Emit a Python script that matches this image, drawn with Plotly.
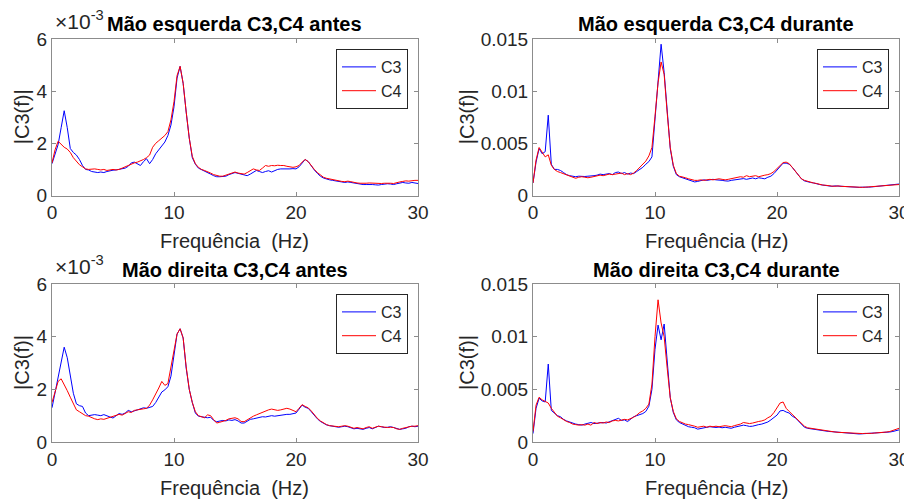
import numpy as np
import plotly.graph_objects as go

# Frequency bins (Hz), 0.25 Hz spacing
freq = np.arange(121) * 0.25

# Values in units of 1e-3
esq_antes_c3 = [1.22,1.6,1.95,2.6,3.25,2.6,1.8,1.65,1.55,1.38,1.15,1.0,0.98,0.92,0.9,0.88,0.9,0.88,0.92,0.95,
                0.97,0.98,1.0,1.02,1.05,1.12,1.25,1.28,1.2,1.15,1.3,1.41,1.22,1.38,1.6,1.75,1.9,2.05,2.3,2.7,
                3.4,4.5,4.95,4.3,3.2,2.2,1.45,1.2,1.05,1.0,0.95,0.88,0.82,0.76,0.72,0.72,0.73,0.74,0.8,0.85,
                0.88,0.85,0.82,0.78,0.76,0.82,0.9,0.96,0.92,0.88,0.92,0.95,0.9,0.96,1.0,1.02,1.02,1.0,1.02,1.03,
                1.02,1.1,1.25,1.38,1.3,1.12,0.98,0.85,0.74,0.67,0.63,0.6,0.58,0.55,0.53,0.52,0.5,0.52,0.5,0.48,
                0.45,0.43,0.42,0.42,0.43,0.42,0.41,0.4,0.42,0.44,0.45,0.44,0.42,0.45,0.48,0.5,0.48,0.47,0.5,0.48,
                0.46]
esq_antes_c4 = [1.25,1.75,2.08,1.95,1.85,1.78,1.65,1.45,1.3,1.18,1.1,1.02,1.0,1.02,1.02,1.0,0.98,1.0,0.96,0.98,
                1.0,0.98,1.0,1.05,1.1,1.15,1.22,1.25,1.28,1.32,1.38,1.45,1.55,1.85,2.0,2.1,2.2,2.3,2.45,2.9,
                3.6,4.6,4.95,4.3,3.2,2.2,1.5,1.22,1.08,1.0,0.96,0.92,0.86,0.8,0.76,0.74,0.74,0.78,0.82,0.88,
                0.9,0.86,0.84,0.82,0.88,0.95,1.02,0.98,0.96,1.05,1.15,1.12,1.15,1.14,1.16,1.15,1.15,1.12,1.1,1.08,
                1.1,1.15,1.28,1.38,1.3,1.14,1.0,0.88,0.78,0.7,0.66,0.63,0.6,0.58,0.55,0.54,0.53,0.55,0.53,0.5,
                0.48,0.47,0.46,0.47,0.48,0.47,0.46,0.45,0.46,0.47,0.48,0.47,0.46,0.5,0.52,0.54,0.56,0.55,0.57,0.58,
                0.58]
esq_dur_c3 = [1.2,3.2,4.5,4.0,4.2,7.7,3.0,2.5,2.5,2.4,2.2,2.0,1.9,1.85,1.8,1.85,1.8,1.82,1.85,1.85,
              1.9,1.95,2.05,2.0,2.05,2.1,2.0,2.2,2.25,2.1,2.2,2.05,2.15,2.1,2.3,2.5,2.7,3.0,3.25,3.7,
              7.2,10.8,14.5,11.8,7.8,4.5,2.8,2.0,1.8,1.7,1.6,1.5,1.45,1.3,1.35,1.45,1.5,1.45,1.5,1.55,
              1.5,1.5,1.45,1.4,1.38,1.45,1.5,1.55,1.6,1.62,1.55,1.6,1.68,1.6,1.7,1.65,1.6,1.75,1.85,2.1,
              2.4,2.8,3.1,3.1,3.0,2.7,2.3,1.9,1.6,1.4,1.3,1.25,1.2,1.1,1.05,1.0,0.95,0.9,0.88,0.92,
              0.9,0.85,0.88,0.85,0.82,0.8,0.82,0.78,0.8,0.78,0.8,0.82,0.85,0.82,0.88,0.9,0.92,0.95,0.98,1.0,
              1.1]
esq_dur_c4 = [1.2,3.4,4.6,4.1,3.7,3.9,2.9,2.5,2.3,2.2,2.1,2.0,1.9,1.8,1.65,1.75,1.8,1.75,1.7,1.75,
              1.8,1.9,1.95,1.9,2.0,2.05,2.0,2.05,2.1,2.15,2.0,2.1,2.0,2.15,2.4,2.7,2.9,3.3,3.8,4.6,
              7.6,10.8,12.8,11.6,7.9,4.6,2.9,2.1,1.85,1.8,1.7,1.6,1.5,1.45,1.45,1.5,1.45,1.5,1.55,1.5,
              1.55,1.6,1.55,1.5,1.55,1.6,1.65,1.7,1.8,1.75,1.9,1.8,1.85,1.9,1.8,1.9,1.95,2.0,2.1,2.3,
              2.6,2.9,3.15,3.2,3.05,2.7,2.3,1.9,1.6,1.45,1.35,1.25,1.2,1.15,1.05,1.0,0.98,0.92,0.9,0.88,
              0.92,0.88,0.86,0.88,0.84,0.82,0.8,0.8,0.78,0.8,0.82,0.8,0.85,0.88,0.86,0.9,0.92,0.95,0.96,1.0,
              1.05]
dir_antes_c3 = [1.3,1.9,2.4,3.1,3.6,3.2,2.45,1.85,1.45,1.38,1.35,1.1,1.0,1.02,1.04,1.02,1.0,1.04,0.98,0.95,
                0.91,1.0,1.08,1.05,1.1,1.2,1.15,1.18,1.22,1.25,1.3,1.28,1.32,1.35,1.5,1.7,1.9,1.98,2.1,2.5,
                3.4,4.1,4.3,3.95,2.8,2.0,1.5,1.1,0.98,0.96,0.95,0.92,0.94,0.82,0.77,0.8,0.82,0.8,0.84,0.82,
                0.85,0.8,0.72,0.72,0.8,0.86,0.88,0.9,0.92,0.96,0.95,0.98,1.0,0.98,1.0,1.02,1.03,1.05,1.05,1.08,
                1.1,1.25,1.4,1.32,1.28,1.15,1.0,0.88,0.78,0.7,0.65,0.62,0.6,0.58,0.56,0.58,0.6,0.58,0.55,0.5,
                0.52,0.5,0.48,0.52,0.55,0.5,0.55,0.6,0.58,0.55,0.56,0.58,0.55,0.52,0.48,0.5,0.52,0.58,0.6,0.58,
                0.6]
dir_antes_c4 = [1.5,1.95,2.3,2.4,2.2,1.95,1.7,1.45,1.22,1.15,1.08,1.0,0.98,0.92,0.88,0.85,0.88,0.86,0.9,0.92,
                0.96,1.0,1.05,1.02,1.08,1.15,1.12,1.2,1.22,1.25,1.26,1.28,1.4,1.6,1.8,2.05,2.3,2.15,2.22,2.8,
                3.5,4.1,4.3,3.95,2.85,2.0,1.5,1.15,1.0,0.95,0.92,1.03,1.0,0.85,0.72,0.75,0.78,0.82,0.88,0.9,
                0.92,0.88,0.78,0.77,0.85,0.92,0.98,1.03,1.08,1.15,1.2,1.22,1.25,1.22,1.2,1.22,1.25,1.28,1.25,1.2,
                1.15,1.28,1.42,1.35,1.3,1.18,1.02,0.9,0.8,0.72,0.66,0.62,0.6,0.6,0.58,0.6,0.62,0.6,0.56,0.52,
                0.55,0.52,0.5,0.55,0.58,0.52,0.56,0.6,0.58,0.56,0.55,0.56,0.55,0.5,0.48,0.52,0.55,0.58,0.6,0.6,
                0.62]
dir_dur_c3 = [0.8,3.2,4.15,3.9,3.8,7.4,3.0,2.7,2.5,2.4,2.15,2.0,1.9,1.75,1.7,1.65,1.6,1.7,1.75,1.85,
              1.75,1.8,1.78,1.85,1.8,1.9,2.0,2.1,2.25,2.05,2.1,1.94,2.2,2.4,2.5,2.6,2.7,2.9,3.4,5.0,
              8.8,11.1,9.7,11.2,7.4,4.2,2.8,2.1,1.85,1.7,1.55,1.45,1.4,1.35,1.22,1.3,1.35,1.4,1.45,1.4,
              1.38,1.42,1.35,1.4,1.32,1.3,1.4,1.45,1.5,1.6,1.55,1.48,1.5,1.6,1.65,1.7,1.78,1.9,2.1,2.3,
              2.55,2.95,3.0,2.85,2.75,2.45,2.3,2.0,1.65,1.4,1.3,1.25,1.2,1.15,1.1,1.05,1.02,1.0,0.98,0.95,
              0.9,0.88,0.86,0.85,0.82,0.8,0.78,0.76,0.78,0.8,0.78,0.8,0.82,0.84,0.85,0.86,0.9,0.95,1.0,1.05,
              1.15]
dir_dur_c4 = [1.0,3.5,4.25,4.0,3.85,3.7,3.2,2.8,2.45,2.3,2.1,1.95,1.85,1.7,1.65,1.6,1.65,1.6,1.7,1.6,
              1.85,1.75,1.85,1.8,1.9,1.85,2.0,2.05,2.0,2.1,2.15,2.1,2.2,2.35,2.55,2.8,2.95,3.2,3.6,5.5,
              10.0,13.5,11.3,10.0,7.0,4.2,2.9,2.2,1.95,1.8,1.7,1.65,1.6,1.5,1.4,1.45,1.5,1.4,1.5,1.45,
              1.5,1.45,1.5,1.55,1.5,1.45,1.55,1.6,1.7,1.85,1.8,1.75,1.8,1.9,1.95,2.0,2.1,2.3,2.45,2.8,
              3.2,3.7,3.8,3.2,2.9,2.6,2.3,2.0,1.7,1.5,1.35,1.3,1.25,1.2,1.15,1.1,1.05,1.0,0.98,0.95,
              0.92,0.9,0.88,0.86,0.85,0.82,0.8,0.78,0.8,0.82,0.8,0.82,0.85,0.86,0.88,0.9,0.95,1.0,1.1,1.2,
              1.3]

titles = ["Mão esquerda C3,C4 antes", "Mão esquerda C3,C4 durante",
          "Mão direita C3,C4 antes", "Mão direita C3,C4 durante"]
xlabels = ["Frequência  (Hz)", "Frequência (Hz)", "Frequência  (Hz)", "Frequência (Hz)"]
ylabel = "|C3(f)|"
xticks = [0, 10, 20, 30]
small_ticks = [0, 0.002, 0.004, 0.006]
small_text = ["0", "2", "4", "6"]
big_ticks = [0, 0.005, 0.01, 0.015]
big_text = ["0", "0.005", "0.01", "0.015"]

# The page body has an 8 px margin: the figure occupies window pixels 8..912 x 8..501
OFF = 8
W, H = 912 - OFF, 501 - OFF
FONT = "Liberation Sans, Arial, sans-serif"
TXT = "#262626"
AX = "#8c8c8c"

def px(x):
    return (x - OFF) / W

def py(y):
    return 1 - (y - OFF) / H

# panel boxes in window pixels: (left, right, top, bottom)
boxes = [(52, 418, 39, 195.5), (533, 899, 39, 195.5),
         (52, 418, 284, 442), (533, 899, 284, 442)]

series = [(esq_antes_c3, esq_antes_c4), (esq_dur_c3, esq_dur_c4),
          (dir_antes_c3, dir_antes_c4), (dir_dur_c3, dir_dur_c4)]
small = [True, False, True, False]

fig = go.Figure()
layout = dict(width=W, height=H, margin=dict(l=0, r=0, t=0, b=0, pad=0, autoexpand=False),
              paper_bgcolor="white", plot_bgcolor="white", showlegend=True,
              font=dict(family=FONT, color=TXT, size=18), annotations=[])

for k in range(4):
    L, R, T, B = boxes[k]
    xa = "x" if k == 0 else f"x{k+1}"
    ya = "y" if k == 0 else f"y{k+1}"
    lg = "legend" if k == 0 else f"legend{k+1}"
    c3, c4 = series[k]
    fig.add_trace(go.Scatter(x=freq, y=[v * 1e-3 for v in c3], mode="lines", name="C3",
                             line=dict(color="#0000ff", width=1), xaxis=xa, yaxis=ya, legend=lg))
    fig.add_trace(go.Scatter(x=freq, y=[v * 1e-3 for v in c4], mode="lines", name="C4",
                             line=dict(color="#ff0000", width=1), xaxis=xa, yaxis=ya, legend=lg))
    axn = "" if k == 0 else str(k + 1)
    layout["xaxis" + axn] = dict(domain=[px(L), px(R)], range=[0, 30], anchor=ya,
                                 tickvals=xticks, ticks="inside", ticklen=4, tickcolor=AX,
                                 showline=True, linecolor=AX, linewidth=1, mirror="ticks",
                                 showgrid=False, zeroline=False, automargin=False,
                                 tickfont=dict(size=19, color=TXT, family=FONT))
    tv, tt = (small_ticks, small_text) if small[k] else (big_ticks, big_text)
    layout["yaxis" + axn] = dict(domain=[py(B), py(T)], range=[0, tv[-1]], anchor=xa,
                                 tickvals=tv, ticktext=tt, ticks="inside", ticklen=4, tickcolor=AX,
                                 showline=True, linecolor=AX, linewidth=1, mirror="ticks",
                                 showgrid=False, zeroline=False, automargin=False,
                                 tickfont=dict(size=19, color=TXT, family=FONT))
    layout[lg] = dict(x=px(R - 10), y=py(T + 10), xanchor="right", yanchor="top",
                      xref="paper", yref="paper", itemwidth=34,
                      bordercolor=TXT, borderwidth=1, bgcolor="white",
                      font=dict(size=16, family=FONT, color=TXT), tracegroupgap=0)
    cx = (L + R) / 2
    ty = 24 if k < 2 else 270
    layout["annotations"].append(dict(text="<b>" + titles[k] + "</b>", x=px(cx), y=py(ty),
                                      xref="paper", yref="paper", showarrow=False,
                                      xanchor="center", yanchor="middle",
                                      font=dict(size=20, family=FONT, color="#000000")))
    xly = 241 if k < 2 else 488
    layout["annotations"].append(dict(text=xlabels[k], x=px(cx), y=py(xly),
                                      xref="paper", yref="paper", showarrow=False,
                                      xanchor="center", yanchor="middle",
                                      font=dict(size=20, family=FONT, color=TXT)))
    ylx = 22 if L < 100 else 467
    layout["annotations"].append(dict(text=ylabel, x=px(ylx), y=py((T + B) / 2),
                                      xref="paper", yref="paper", showarrow=False,
                                      xanchor="center", yanchor="middle", textangle=-90,
                                      font=dict(size=20, family=FONT, color=TXT)))
    if small[k]:
        layout["annotations"].append(dict(text="×10<sup>-3</sup>", x=px(L + 1), y=py(T - 4),
                                          xref="paper", yref="paper", showarrow=False,
                                          xanchor="left", yanchor="bottom",
                                          font=dict(size=21, family=FONT, color=TXT)))

fig.update_layout(**layout)
fig.write_html("out.html")
